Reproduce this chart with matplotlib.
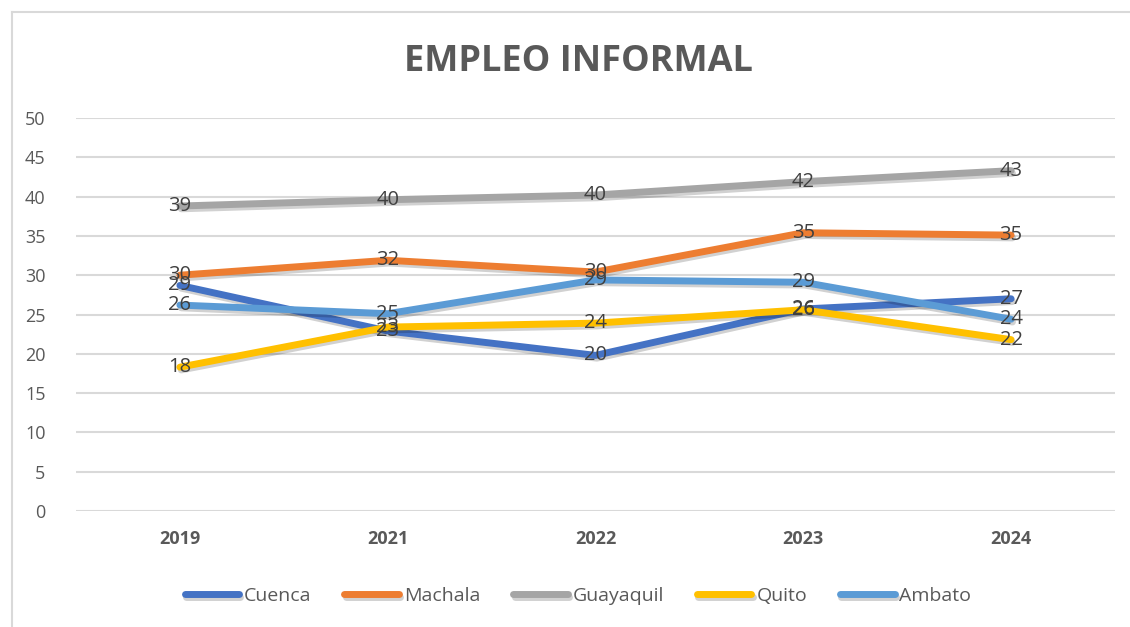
import matplotlib
matplotlib.use("Agg")
import matplotlib.pyplot as plt
import matplotlib.patheffects as path_effects
from matplotlib.lines import Line2D

plt.rcParams['font.family'] = ['Open Sans', 'DejaVu Sans']

years = ["2019", "2021", "2022", "2023", "2024"]
cuenca = [28.7, 22.9, 19.8, 25.7, 27.0]
machala = [30.0, 31.9, 30.4, 35.4, 35.1]
guayaquil = [38.8, 39.6, 40.2, 41.9, 43.3]
quito = [18.3, 23.4, 23.9, 25.6, 21.8]
ambato = [26.2, 25.1, 29.4, 29.1, 24.4]

series = [
    ("Cuenca", cuenca, "#4472C4"),
    ("Machala", machala, "#ED7D31"),
    ("Guayaquil", guayaquil, "#A5A5A5"),
    ("Quito", quito, "#FFC000"),
    ("Ambato", ambato, "#5B9BD5"),
]

fig = plt.figure(figsize=(11.3, 6.27), dpi=100)
ax = fig.add_axes([76 / 1130, 1 - 511 / 627, (1115 - 76) / 1130, (511 - 118) / 627])

# outer chart border (only top and left visible)
fig.add_artist(Line2D([12 / 1130, 12 / 1130], [0, 1 - 12 / 627], color="#D9D9D9", lw=1.5))
fig.add_artist(Line2D([12 / 1130, 1], [1 - 12 / 627, 1 - 12 / 627], color="#D9D9D9", lw=1.5))

x = list(range(len(years)))
shadow = [path_effects.SimpleLineShadow(offset=(1.0, -2.0), shadow_color="black", alpha=0.18),
          path_effects.Normal()]

for name, vals, color in series:
    ln, = ax.plot(x, vals, color=color, lw=5, solid_capstyle="round", label=name, zorder=3)
    ln.set_path_effects(shadow)

for name, vals, color in series:
    for xi, v in zip(x, vals):
        ax.text(xi, v, f"{v:.0f}", ha="center", va="center", fontsize=14.5,
                color="#404040", zorder=5)

ax.set_xlim(-0.5, 4.5)
ax.set_ylim(0, 50)
ax.set_yticks(range(0, 51, 5))
ax.set_xticks(x)
ax.set_xticklabels(years, fontweight="bold", fontsize=13, color="#595959")
ax.tick_params(axis="y", labelsize=13, labelcolor="#595959", length=0, pad=22)
ax.tick_params(axis="x", length=0, pad=14)
ax.grid(axis="y", color="#D9D9D9", lw=1.5)
ax.set_axisbelow(True)
for s in ax.spines.values():
    s.set_visible(False)

fig.text(578 / 1130, 1 - 62 / 627, "EMPLEO INFORMAL", ha="center", va="center",
         fontsize=26, fontweight="bold", color="#595959")

leg = fig.legend(loc="center", bbox_to_anchor=(578 / 1130, 1 - 596 / 627), ncol=5,
                 frameon=False, fontsize=14, handlelength=2.8, handletextpad=0.25,
                 columnspacing=1.7, labelcolor="#595959")
for h in leg.legend_handles:
    h.set_linewidth(5)
    h.set_solid_capstyle("round")

fig.savefig("out.png", dpi=100, facecolor="white")
